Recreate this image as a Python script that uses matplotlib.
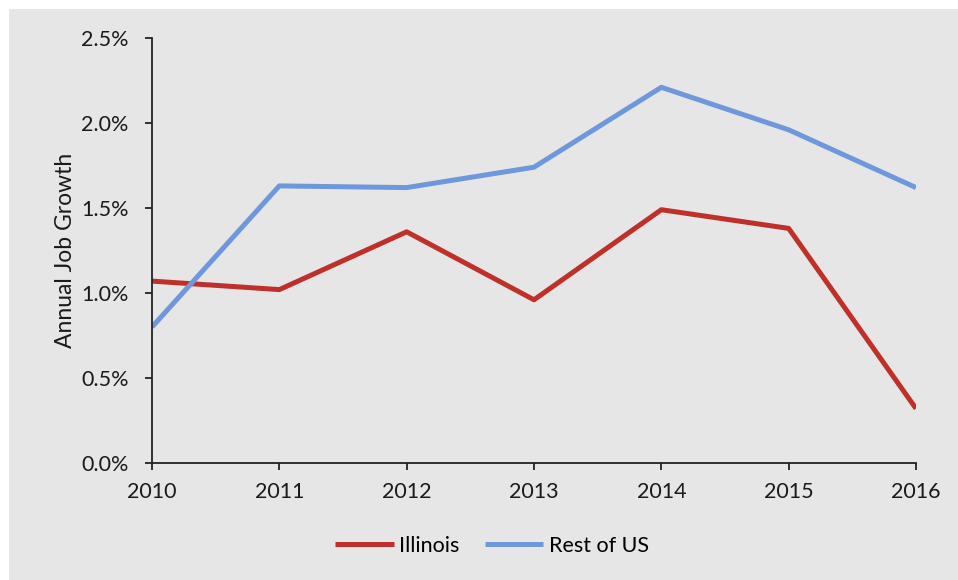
import matplotlib.pyplot as plt
from matplotlib.ticker import FuncFormatter, MultipleLocator
from matplotlib.patches import Rectangle

# 年份和两组就业增长数据（单位：%）
years = [2010, 2011, 2012, 2013, 2014, 2015, 2016]
illinois = [1.07, 1.02, 1.36, 0.96, 1.49, 1.38, 0.32]
rest_of_us = [0.80, 1.63, 1.62, 1.74, 2.21, 1.96, 1.62]

plt.rcParams['font.family'] = ['Lato', 'DejaVu Sans']

fig = plt.figure(figsize=(9.58, 5.8), dpi=100)
fig.patch.set_facecolor('white')
# 灰色背景，左边和上边留一点白边
fig.patches.append(Rectangle((9 / 958, 0), 1 - 9 / 958, 1 - 9 / 580,
                             transform=fig.transFigure, facecolor='#e6e6e6',
                             edgecolor='none', zorder=-10))

ax = fig.add_axes([152 / 958, 1 - 463 / 580, (916 - 152) / 958, (463 - 38) / 580])
ax.set_facecolor('none')

ax.plot(years, illinois, color='#c0302a', linewidth=3.6, label='Illinois',
        solid_capstyle='butt')
ax.plot(years, rest_of_us, color='#6f97dc', linewidth=3.6, label='Rest of US',
        solid_capstyle='butt')

ax.set_xlim(2010, 2016)
ax.set_ylim(0, 2.5)
ax.yaxis.set_major_locator(MultipleLocator(0.5))
ax.yaxis.set_major_formatter(FuncFormatter(lambda v, p: '%.1f%%' % v))
ax.set_xticks(years)

for s in ['top', 'right']:
    ax.spines[s].set_visible(False)
for s in ['left', 'bottom']:
    ax.spines[s].set_color('#222222')
    ax.spines[s].set_linewidth(1.3)

ax.tick_params(axis='both', direction='out', length=5, width=1.3,
               color='#222222', labelsize=15.5, labelcolor='#1a1a1a')
ax.tick_params(axis='x', pad=9)
ax.tick_params(axis='y', pad=12)

ax.set_ylabel('Annual Job Growth', fontsize=16.5, color='#1a1a1a', labelpad=3.5)

leg = ax.legend(loc='center', bbox_to_anchor=(492 / 958, 1 - 546 / 580),
                bbox_transform=fig.transFigure, ncol=2, frameon=False,
                fontsize=15.5, handlelength=2.7, handletextpad=0.25,
                columnspacing=1.2)

fig.savefig('out.png', dpi=100)
